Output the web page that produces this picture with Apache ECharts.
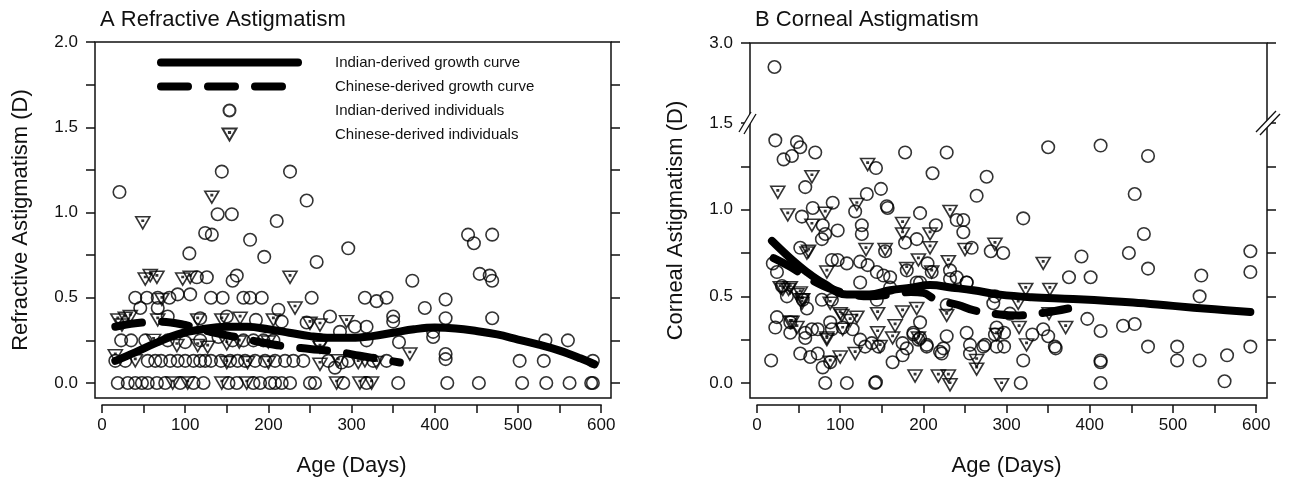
<!DOCTYPE html>
<html><head><meta charset="utf-8">
<script src="https://cdn.jsdelivr.net/npm/echarts@6/dist/echarts.min.js"></script>
<style>html,body{margin:0;padding:0;background:#fff}#c{width:1298px;height:487px}</style>
</head><body><div id="c"></div>
<script>
// ---------- data (age in days, astigmatism in D) ----------
const xTickValues = [0, 100, 200, 300, 400, 500, 600];
const yTickLabelsA = ['0.0', '0.5', '1.0', '1.5', '2.0'];
const yTickLabelsB = ['0.0', '0.5', '1.0', '1.5', '3.0'];
const seriesNames = ['Indian-derived growth curve', 'Chinese-derived growth curve',
  'Indian-derived individuals', 'Chinese-derived individuals'];

// Panel A: refractive astigmatism
const refIndianCurve = [[16,0.13],[40,0.18],[65,0.235],[91,0.285],[120,0.315],[150,0.33],[175,0.33],[200,0.315],
  [225,0.295],[250,0.275],[275,0.265],[300,0.265],[325,0.275],[350,0.295],[375,0.315],[400,0.325],[425,0.32],
  [450,0.305],[475,0.285],[500,0.255],[525,0.225],[550,0.19],[575,0.145],[592,0.11]];
const refChineseCurve = [[16,0.33],[40,0.35],[70,0.36],[100,0.34],[130,0.3],[160,0.27],[190,0.24],[220,0.215],
  [250,0.2],[280,0.185],[310,0.16],[340,0.135],[358,0.12]];
const refIndianPts = [[21,1.12],[144,1.24],[226,1.24],[246,1.07],[139,0.99],[156,0.99],[210,0.95],[124,0.88],
  [132,0.87],[178,0.84],[105,0.76],[195,0.74],[296,0.79],[258,0.71],[440,0.87],[447,0.82],[469,0.87],[454,0.64],
  [466,0.63],[469,0.6],[373,0.6],[114,0.62],[126,0.62],[157,0.6],[162,0.63],
  [40,0.5],[54,0.5],[67,0.5],[81,0.5],[91,0.52],[106,0.52],[131,0.5],[145,0.5],[170,0.5],[178,0.5],[192,0.5],
  [252,0.5],[316,0.5],[330,0.48],[342,0.5],[413,0.49],
  [46,0.44],[67,0.44],[79,0.39],[212,0.43],[274,0.39],[216,0.36],[246,0.355],[286,0.3],[304,0.33],[318,0.33],
  [388,0.44],[413,0.38],[469,0.38],[350,0.39],[350,0.36],[357,0.24],[398,0.27],[398,0.3],[413,0.17],[413,0.14],
  [533,0.25],[560,0.25],[502,0.13],[531,0.13],[590,0.13],[118,0.38],[150,0.39],[185,0.37],
  [23,0.25],[35,0.25],[52,0.25],[79,0.25],[118,0.25],[157,0.25],[170,0.25],[182,0.25],[194,0.25],[206,0.25],
  [262,0.25],[318,0.25],[140,0.27],[100,0.24],
  [16,0.13],[28,0.13],[55,0.13],[64,0.13],[71,0.13],[82,0.13],[91,0.13],[100,0.13],[110,0.13],[118,0.13],
  [124,0.13],[131,0.13],[143,0.13],[154,0.13],[163,0.13],[172,0.13],[184,0.13],[196,0.13],[208,0.13],[220,0.13],
  [230,0.13],[242,0.13],[272,0.13],[296,0.13],[326,0.13],[342,0.13],[280,0.09],[288,0.12],
  [19,0],[31,0],[40,0],[48,0],[55,0],[66,0],[76,0],[94,0],[110,0],[122,0],[152,0],[162,0],[182,0],[190,0],
  [202,0],[208,0],[216,0],[226,0],[250,0],[256,0],[290,0],[318,0],[356,0],[415,0],[453,0],[505,0],[534,0],
  [562,0],[588,0],[590,0]];
const refChinesePts = [[49,0.94],[132,1.09],[52,0.61],[58,0.63],[66,0.62],[97,0.61],[106,0.62],[226,0.62],
  [232,0.44],[72,0.49],[19,0.37],[24,0.34],[28,0.38],[34,0.39],[67,0.37],[115,0.37],[144,0.37],[166,0.38],
  [206,0.37],[250,0.35],[262,0.34],[294,0.36],[370,0.17],[16,0.16],
  [62,0.25],[90,0.22],[115,0.22],[127,0.21],[150,0.23],[165,0.24],[200,0.24],[262,0.21],
  [40,0.13],[150,0.12],[175,0.12],[200,0.12],[262,0.11],[284,0.13],[308,0.12],[316,0.13],[330,0.12],
  [85,0],[103,0],[144,0],[174,0],[282,0],[310,0],[324,0]];

// Panel B: corneal astigmatism
const cornIndianCurve = [[18,0.82],[40,0.72],[60,0.64],[80,0.575],[108,0.51],[135,0.51],[160,0.535],[185,0.55],
  [208,0.565],[235,0.55],[260,0.535],[292,0.51],[330,0.495],[380,0.485],[452,0.465],[500,0.445],[550,0.425],[593,0.41]];
const cornChineseCurve = [[20,0.72],[40,0.67],[60,0.61],[80,0.56],[105,0.52],[135,0.5],[160,0.51],[185,0.525],
  [200,0.52],[215,0.48],[242,0.45],[260,0.42],[292,0.395],[315,0.39],[345,0.405],[374,0.43]];
const cornIndianPts = [[21,2.55],
  [22,1.40],[48,1.39],[52,1.36],[32,1.29],[42,1.31],[70,1.33],[178,1.33],[228,1.33],[211,1.21],[276,1.19],
  [264,1.08],[143,1.24],[149,1.12],[132,1.09],[58,1.13],[91,1.04],[67,1.01],[54,0.96],[118,0.99],[156,1.02],
  [157,1.01],[196,0.98],[215,0.91],[240,0.94],[248,0.94],[248,0.87],[97,0.88],[79,0.91],[82,0.86],[78,0.83],
  [126,0.91],[126,0.86],[178,0.81],[192,0.83],[52,0.78],[154,0.76],[258,0.78],[281,0.76],[296,0.75],[19,0.69],
  [24,0.64],[90,0.71],[97,0.71],[108,0.69],[124,0.70],[133,0.68],[144,0.64],[152,0.62],[160,0.61],[180,0.65],
  [205,0.69],[210,0.64],[232,0.65],[240,0.61],[252,0.58],[196,0.58],[124,0.58],[30,0.56],[36,0.5],[78,0.48],
  [90,0.48],[144,0.48],[228,0.45],[286,0.5],[284,0.46],[55,0.48],[60,0.43],[196,0.35],[24,0.38],[22,0.32],
  [40,0.35],[40,0.29],[58,0.29],[66,0.31],[73,0.31],[88,0.35],[90,0.31],[103,0.32],[115,0.31],[124,0.25],
  [130,0.21],[58,0.26],[52,0.17],[64,0.15],[73,0.17],[79,0.09],[88,0.12],[138,0.23],[146,0.21],[163,0.12],
  [175,0.16],[175,0.23],[188,0.28],[194,0.25],[204,0.21],[220,0.18],[224,0.2],[228,0.27],[252,0.29],[256,0.17],
  [272,0.21],[286,0.28],[288,0.21],[17,0.13],[82,0],[108,0],[142,0],[143,0.005],
  [160,0.55],[192,0.58],[232,0.6],[252,0.58],[188,0.29],[196,0.26],[204,0.22],[222,0.17],[180,0.2],[256,0.22],
  [288,0.32],[274,0.22],
  [350,1.36],[413,1.37],[470,1.31],[454,1.09],[320,0.95],[465,0.86],[390,0.73],[447,0.75],[593,0.76],[470,0.66],
  [593,0.64],[534,0.62],[375,0.61],[401,0.61],[532,0.5],[304,0.4],[397,0.37],[440,0.33],[454,0.34],[413,0.3],
  [331,0.28],[344,0.31],[350,0.27],[358,0.21],[359,0.2],[470,0.21],[505,0.21],[593,0.21],[320,0.13],[413,0.13],
  [413,0.12],[505,0.13],[532,0.13],[565,0.16],[317,0],[413,0],[562,0.01],[297,0.29],[297,0.21]];
const cornChinesePts = [[25,1.1],[133,1.26],[66,1.19],[37,0.97],[120,1.03],[82,0.98],[66,0.91],[175,0.92],
  [232,0.99],[175,0.86],[208,0.86],[208,0.78],[131,0.77],[154,0.77],[250,0.77],[286,0.8],[60,0.75],[62,0.76],
  [194,0.71],[230,0.7],[180,0.66],[84,0.64],[210,0.64],[28,0.55],[38,0.54],[48,0.51],[54,0.48],[31,0.54],
  [40,0.55],[52,0.52],[55,0.48],[54,0.46],[88,0.46],[100,0.4],[102,0.39],[145,0.4],[175,0.41],[192,0.43],
  [228,0.39],[40,0.35],[42,0.35],[48,0.32],[112,0.36],[120,0.38],[145,0.29],[166,0.33],[84,0.25],[84,0.26],
  [103,0.31],[148,0.21],[163,0.26],[194,0.26],[88,0.12],[100,0.15],[118,0.17],[264,0.13],[264,0.08],[190,0.04],
  [218,0.04],[230,0.04],[232,-0.01],[294,-0.01],[288,0.28],[344,0.69],[323,0.54],[352,0.54],[314,0.46],
  [351,0.4],[315,0.32],[324,0.22],[371,0.32]];

// ---------- styling helpers ----------
const FONT = '"Liberation Sans", Arial, Helvetica, sans-serif';
const INK = '#111';
const TRI = 'path://M0,0L14,0L7,12Z M6.4,3.4L7.6,3.4L7.6,4.6L6.4,4.6Z';
const lineW = 1.5;
const DASH = [27, 20];

function near(v, list) { return list.some(t => Math.abs(parseFloat(t) - v) < 1e-6); }
function hiddenAxis(grid, extra) { return Object.assign({type: 'value', gridIndex: grid, show: false}, extra || {}); }
function yTickAxis(grid, pos, min, max, interval, labels) {
  return {
    type: 'value', gridIndex: grid, position: pos, min: min, max: max, interval: interval,
    axisLine: {show: false}, splitLine: {show: false},
    axisTick: {show: true, inside: false, length: 9, lineStyle: {color: INK, width: lineW}},
    axisLabel: {show: !!labels, margin: 17, fontSize: 17, color: INK, fontFamily: FONT,
      formatter: v => (labels && near(v, labels)) ? v.toFixed(1) : ''}
  };
}
function xTickAxis(grid) {
  return {
    type: 'value', gridIndex: grid, position: 'bottom', min: 0, max: 600, interval: 50,
    axisLine: {show: true, onZero: false, lineStyle: {color: INK, width: lineW}},
    axisTick: {show: true, inside: false, length: 8, lineStyle: {color: INK, width: lineW}},
    splitLine: {show: false},
    axisLabel: {margin: 12, fontSize: 17, color: INK, fontFamily: FONT,
      formatter: v => xTickValues.includes(v) ? String(v) : ''},
    name: 'Age (Days)', nameLocation: 'middle', nameGap: 50,
    nameTextStyle: {fontSize: 22, color: INK, fontFamily: FONT}
  };
}
function yNameAxis(grid, min, max, name) {
  return {
    type: 'value', gridIndex: grid, min: min, max: max, show: true,
    axisLine: {show: false}, axisTick: {show: false}, axisLabel: {show: false}, splitLine: {show: false},
    name: name, nameLocation: 'middle', nameRotate: 90, nameGap: 63,
    nameTextStyle: {fontSize: 22, color: INK, fontFamily: FONT}
  };
}
const circleStyle = {color: 'transparent', borderColor: '#000', borderWidth: 1.6};
function curve(name, data, xi, yi, dashed) {
  return {
    type: 'line', name: name, data: data, xAxisIndex: xi, yAxisIndex: yi, smooth: 0.4,
    symbol: 'none', z: 5, silent: true, color: '#000',
    lineStyle: {color: '#000', width: 8, cap: 'round', join: 'round', type: dashed ? DASH : 'solid'}
  };
}
function dots(name, data, xi, yi, tri) {
  return {
    type: 'scatter', name: name, data: data, xAxisIndex: xi, yAxisIndex: yi, silent: true, z: 3,
    symbol: tri ? TRI : 'circle', symbolSize: tri ? [14, 12] : 12.5, itemStyle: circleStyle
  };
}

// pixel layout (frame boxes)
const A = {left: 95, top: 42, width: 516, height: 356};
const B = {left: 750, top: 43, width: 517, height: 355};

const option = {
  animation: false,
  backgroundColor: '#fff',
  title: [
    {text: 'A Refractive Astigmatism', left: 95, top: 4,
      textStyle: {fontSize: 22, fontWeight: 'normal', color: '#111', fontFamily: FONT}},
    {text: 'B Corneal Astigmatism', left: 750, top: 4,
      textStyle: {fontSize: 22, fontWeight: 'normal', color: '#111', fontFamily: FONT}}
  ],
  legend: {
    show: true, orient: 'vertical', left: 152, top: 50, itemWidth: 137, itemHeight: 12, itemGap: 9,
    selectedMode: false,
    data: [
      {name: seriesNames[0], itemStyle: {opacity: 0}, lineStyle: {width: 8, color: '#000', cap: 'round', type: 'solid'}},
      {name: seriesNames[1], itemStyle: {opacity: 0}, lineStyle: {width: 8, color: '#000', cap: 'round', type: DASH}},
      {name: seriesNames[2]},
      {name: seriesNames[3]}
    ],
    textStyle: {fontSize: 15, color: INK, fontFamily: FONT, lineHeight: 14, padding: [0, 0, 0, 32]}
  },
  grid: [
    Object.assign({show: true, borderColor: INK, borderWidth: lineW, backgroundColor: 'transparent'}, A), // 0 A frame + data
    {left: 95, top: 42, width: 516, height: 341},                 // 1 A y ticks
    {left: 102, top: 404, width: 499.2, height: 1},               // 2 A x ticks
    Object.assign({show: true, borderColor: INK, borderWidth: lineW, backgroundColor: 'transparent'}, B), // 3 B frame
    {left: 750, top: 123, width: 517, height: 275},               // 4 B lower data
    {left: 750, top: 43, width: 517, height: 80},                 // 5 B upper data
    {left: 750, top: 123, width: 517, height: 260},               // 6 B lower y ticks
    {left: 750, top: 43, width: 517, height: 80},                 // 7 B upper y ticks
    {left: 757, top: 404, width: 499.2, height: 1}                // 8 B x ticks
  ],
  xAxis: [
    hiddenAxis(0, {min: -8.41, max: 611.8}),
    hiddenAxis(1, {min: 0, max: 1}),
    xTickAxis(2),
    hiddenAxis(3, {min: 0, max: 1}),
    hiddenAxis(4, {min: -8.41, max: 613}),
    hiddenAxis(5, {min: -8.41, max: 613}),
    hiddenAxis(6, {min: 0, max: 1}),
    hiddenAxis(7, {min: 0, max: 1}),
    xTickAxis(8)
  ],
  yAxis: [
    yNameAxis(0, -0.088, 2.0, 'Refractive Astigmatism (D)'),      // 0
    yTickAxis(1, 'left', 0, 2.0, 0.25, yTickLabelsA),             // 1
    yTickAxis(1, 'right', 0, 2.0, 0.25, null),                    // 2
    hiddenAxis(2, {min: 0, max: 1}),                              // 3
    yNameAxis(3, 0, 1, 'Corneal Astigmatism (D)'),                // 4
    hiddenAxis(4, {min: -0.0865, max: 1.5}),                      // 5
    hiddenAxis(5, {min: 1.5, max: 3.0}),                          // 6
    yTickAxis(6, 'left', 0, 1.5, 0.25, yTickLabelsB.slice(0, 4)), // 7
    yTickAxis(6, 'right', 0, 1.5, 0.25, null),                    // 8
    yTickAxis(7, 'left', 1.5, 3.0, 1.5, yTickLabelsB.slice(4)),   // 9
    yTickAxis(7, 'right', 1.5, 3.0, 1.5, null),                   // 10
    hiddenAxis(8, {min: 0, max: 1})                               // 11
  ],
  series: [
    dots(seriesNames[2], refIndianPts, 0, 0, false),
    dots(seriesNames[3], refChinesePts, 0, 0, true),
    curve(seriesNames[0], refIndianCurve, 0, 0, false),
    curve(seriesNames[1], refChineseCurve, 0, 0, true),
    dots(seriesNames[2], cornIndianPts.filter(p => p[1] <= 1.5), 4, 5, false),
    dots(seriesNames[2], cornIndianPts.filter(p => p[1] > 1.5), 5, 6, false),
    dots(seriesNames[3], cornChinesePts, 4, 5, true),
    curve(seriesNames[0], cornIndianCurve, 4, 5, false),
    curve(seriesNames[1], cornChineseCurve, 4, 5, true)
  ],
  graphic: [
    // axis-break marks on panel B (decoration only)
    {type: 'polygon', z: 100, shape: {points: [[739, 132], [751, 112], [756, 114], [744, 134]]},
      style: {fill: '#fff', stroke: null}},
    {type: 'line', z: 101, shape: {x1: 739, y1: 132, x2: 751, y2: 112}, style: {stroke: INK, lineWidth: 1.3}},
    {type: 'line', z: 101, shape: {x1: 744, y1: 134, x2: 756, y2: 114}, style: {stroke: INK, lineWidth: 1.3}},
    {type: 'polygon', z: 100, shape: {points: [[1256, 132], [1276, 111], [1280, 114], [1260, 135]]},
      style: {fill: '#fff', stroke: null}},
    {type: 'line', z: 101, shape: {x1: 1256, y1: 132, x2: 1276, y2: 111}, style: {stroke: INK, lineWidth: 1.3}},
    {type: 'line', z: 101, shape: {x1: 1260, y1: 135, x2: 1280, y2: 114}, style: {stroke: INK, lineWidth: 1.3}}
  ]
};

const chart = echarts.init(document.getElementById('c'), null, {renderer: 'canvas'});
chart.setOption(option);
</script>
</body></html>
